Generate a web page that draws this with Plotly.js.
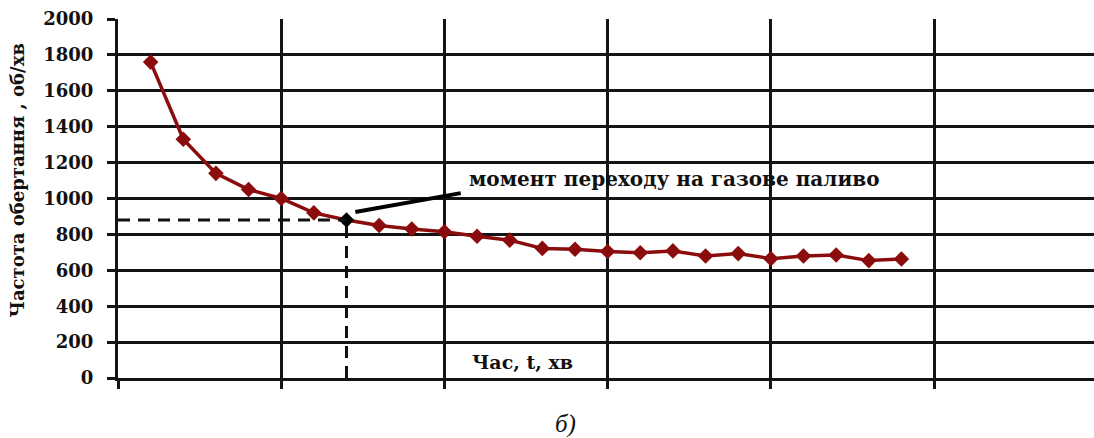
<!DOCTYPE html>
<html>
<head>
<meta charset="utf-8">
<script src="https://cdn.plot.ly/plotly-3.0.1.min.js"></script>
<style>html,body{margin:0;padding:0;background:#fff;}#chart{width:1094px;height:438px;}</style>
</head>
<body>
<div id="chart"></div>
<script>
// Data
const timeMin = [1,2,3,4,5,6,7,8,9,10,11,12,13,14,15,16,17,18,19,20,21,22,23,24];
const rpm = [1760,1330,1140,1050,1000,920,880,850,830,815,790,768,722,717,705,698,708,680,693,665,680,685,654,663];
const switchIndex = 6; // moment of switching to gas fuel
const yTicks = [0,200,400,600,800,1000,1200,1400,1600,1800,2000];
const xTicks = [0,5,10,15,20,25];
const yTitle = 'Частота обертання , об/хв';
const xTitle = 'Час, t, хв';
const noteText = 'момент переходу на газове паливо';
const caption = 'б)';

const red = '#8b0c0c';
const ink = '#141414';
const serif = '"DejaVu Serif", "Liberation Serif", serif';
const sx = timeMin[switchIndex], sy = rpm[switchIndex];

const trace = {
  x: timeMin, y: rpm, type: 'scatter', mode: 'lines+markers',
  line: {color: red, width: 3.5},
  marker: {symbol: 'diamond', size: 12,
    color: timeMin.map((_, i) => i === switchIndex ? '#000' : red),
    line: {width: 0}},
  hoverinfo: 'skip', showlegend: false
};

const layout = {
  width: 1094, height: 438,
  margin: {l: 118, r: 0, t: 19, b: 60},
  paper_bgcolor: '#fff', plot_bgcolor: '#fff',
  xaxis: {range: [0, 29.9], tickvals: xTicks, showticklabels: false,
    ticks: 'outside', ticklen: 8, tickwidth: 3, tickcolor: ink,
    showgrid: true, gridcolor: ink, gridwidth: 3,
    showline: true, linecolor: ink, linewidth: 3, zeroline: false, fixedrange: true},
  yaxis: {range: [0, 2000], tickvals: yTicks,
    ticks: 'outside', ticklen: 8, tickwidth: 3, tickcolor: ink,
    tickfont: {family: serif, size: 18, color: '#111', weight: 'bold'},
    ticklabelstandoff: 10,
    showgrid: true, gridcolor: ink, gridwidth: 3,
    showline: true, linecolor: ink, linewidth: 3, zeroline: false, fixedrange: true},
  shapes: [
    {type: 'line', xref: 'x', yref: 'y', x0: 0, x1: sx, y0: sy, y1: sy,
     line: {color: '#111', width: 3, dash: '12px,8px'}},
    {type: 'line', xref: 'x', yref: 'y', x0: sx, x1: sx, y0: 0, y1: sy,
     line: {color: '#111', width: 3, dash: '12px,8px'}},
    {type: 'line', xref: 'x', yref: 'y', x0: sx + 0.27, x1: sx + 3.5, y0: sy + 45, y1: sy + 150,
     line: {color: '#000', width: 4}}
  ],
  annotations: [
    {x: 0, y: 0.55, xref: 'paper', yref: 'paper', xanchor: 'center', yanchor: 'middle',
     xshift: -100, textangle: -90,
     text: yTitle, showarrow: false,
     font: {family: serif, size: 18, color: '#111', weight: 'bold'}},
    {x: sx + 3.7, y: 1110, xref: 'x', yref: 'y', xanchor: 'left', yanchor: 'middle',
     text: noteText, showarrow: false,
     font: {family: serif, size: 20, color: '#111', weight: 'bold'}},
    {x: 12.4, y: 90, xref: 'x', yref: 'y', xanchor: 'center', yanchor: 'middle',
     text: xTitle, showarrow: false,
     font: {family: serif, size: 19, color: '#111', weight: 'bold'}},
    {x: 0.4584, y: -0.128, xref: 'paper', yref: 'paper', xanchor: 'center', yanchor: 'middle',
     text: caption, showarrow: false,
     font: {family: '"Liberation Serif", serif', size: 25, color: '#111', style: 'italic'}}
  ]
};

Plotly.newPlot('chart', [trace], layout, {displayModeBar: false, staticPlot: true});
</script>
</body>
</html>
